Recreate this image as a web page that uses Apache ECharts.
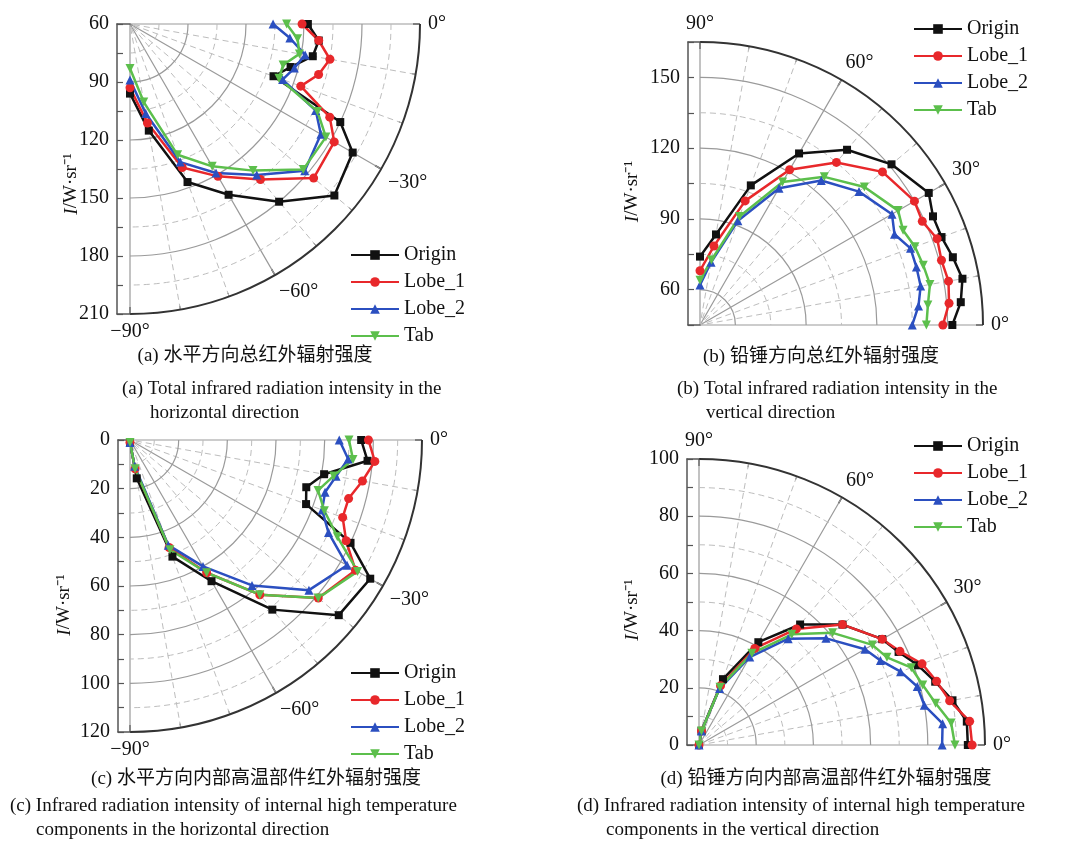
<!DOCTYPE html>
<html>
<head>
<meta charset="utf-8">
<script src="https://cdn.jsdelivr.net/npm/echarts@6/dist/echarts.min.js"></script>
<style>
html, body { margin: 0; padding: 0; background: #fff; }
#chart { width: 1078px; height: 848px; }
</style>
</head>
<body>
<div id="chart"></div>
<script>
// 图例名
const seriesNames = ['Origin', 'Lobe_1', 'Lobe_2', 'Tab'];

// (a) 水平方向总红外辐射强度
const angA = [0, -5, -10, -15, -20, -25, -30, -40, -50, -60, -70, -80, -90];
const aOrigin = [152, 158, 156, 146, 139, 180, 193, 198, 180, 162, 147, 116, 96];
const aLobe1 = [149, 158, 165, 161, 154, 174, 182, 184, 165, 151, 139, 112, 93];
const aLobe2 = [134, 143, 152, 148, 144, 166, 174, 178, 162, 149, 136, 107, 89];
const aTab = [141, 147, 149, 142, 142, 167, 177, 177, 159, 145, 132, 101, 83];

// (b) 铅锤方向总红外辐射强度
const angB = [0, 5, 10, 15, 20, 25, 30, 40, 50, 60, 70, 80, 90];
const bOrigin = [152, 156, 158, 156, 154, 154, 157, 151, 142, 129, 108, 84, 74];
const bLobe1 = [148, 151, 152, 151, 152, 149, 150, 146, 135, 121, 101, 79, 68];
const bLobe2 = [135, 138, 140, 140, 140, 136, 139, 133, 125, 112, 92, 72, 62];
const bTab = [141, 142, 144, 143, 142, 140, 142, 136, 127, 115, 94, 73, 64];

// (c) 水平方向内部高温部件
const angC = [0, -5, -10, -15, -20, -25, -30, -40, -50, -60, -70, -80, -90];
const cOrigin = [95, 98, 81, 75, 77, 100, 114, 112, 91, 67, 51, 16, 1];
const cLobe1 = [98, 101, 97, 93, 93, 98, 107, 101, 83, 63, 47, 12, 1];
const cLobe2 = [86, 90, 86, 83, 84, 90, 103, 96, 78, 60, 46, 11, 1];
const cTab = [90, 92, 85, 80, 85, 94, 108, 101, 83, 63, 48, 12, 1];

// (d) 铅锤方向内部高温部件
const angD = [0, 5, 10, 15, 20, 25, 30, 40, 50, 60, 70, 80, 90];
const dOrigin = [94, 94, 90, 85.5, 81.5, 77, 74, 65.5, 55, 41.5, 24.5, 5, 0];
const dLobe1 = [95.5, 95, 89, 86, 83, 77.5, 74, 65.5, 53, 39, 22, 5, 0];
const dLobe2 = [85, 85.5, 80, 79, 75, 70, 67, 58, 48.5, 35.5, 21, 5, 0];
const dTab = [89.5, 88.5, 84, 81, 79, 72.5, 70, 61, 50.5, 37, 21.5, 5, 0];

// 网格圆弧（实线 / 虚线）的径向刻度值
const ringsA = [90, 120, 150, 180], ringsAMinor = [75, 105, 135, 165, 195];
const ringsB = [60, 90, 120, 150], ringsBMinor = [75, 105, 135];
const ringsC = [20, 40, 60, 80, 100], ringsCMinor = [10, 30, 50, 70, 90, 110];
const ringsD = [20, 40, 60, 80], ringsDMinor = [10, 30, 50, 70, 90];

const serif = "'Liberation Serif', 'Times New Roman', serif";
const cjk = "'Liberation Serif', 'Noto Sans CJK SC', serif";

const marks = [
    { symbol: 'rect', color: '#111111', size: 8, rot: 0 },
    { symbol: 'circle', color: '#e8282b', size: 9, rot: 0 },
    { symbol: 'triangle', color: '#2b4fc0', size: 9, rot: 0 },
    { symbol: 'triangle', color: '#5cbf4c', size: 9, rot: 180 }
];

function lines(polarIndex, ang, sets) {
    return sets.map((vals, i) => ({
        name: seriesNames[i],
        type: 'line',
        coordinateSystem: 'polar',
        polarIndex: polarIndex,
        data: vals.map((v, k) => [v, ang[k]]),
        symbol: marks[i].symbol,
        symbolSize: marks[i].size,
        symbolRotate: marks[i].rot,
        lineStyle: { width: 2.5, color: marks[i].color },
        itemStyle: { color: marks[i].color },
        z: 5,
        animation: false
    }));
}

const solidLine = { color: '#9a9a9a', width: 1.2 };
const dashLine = { color: '#bdbdbd', width: 1, type: [6, 4] };

// 只画扇形范围内的圆弧网格
function rings(polarIndex, values, a0, a1, dashed) {
    return {
        type: 'custom',
        coordinateSystem: 'polar',
        polarIndex: polarIndex,
        silent: true,
        animation: false,
        z: 1,
        data: values.map(v => [v, a0]),
        renderItem: function (params, api) {
            const cs = params.coordSys;
            const p = api.coord([api.value(0), a0]);
            const r = Math.sqrt((p[0] - cs.cx) * (p[0] - cs.cx) + (p[1] - cs.cy) * (p[1] - cs.cy));
            return {
                type: 'arc',
                shape: { cx: cs.cx, cy: cs.cy, r: r, startAngle: -a1 * Math.PI / 180, endAngle: -a0 * Math.PI / 180, clockwise: true },
                style: {
                    fill: 'none',
                    stroke: dashed ? dashLine.color : solidLine.color,
                    lineWidth: dashed ? dashLine.width : solidLine.width,
                    lineDash: dashed ? dashLine.type : null
                }
            };
        }
    };
}

function angleAxis(idx, min, max) {
    return {
        polarIndex: idx,
        type: 'value',
        min: min, max: max,
        startAngle: min, endAngle: max,
        clockwise: false,
        interval: 30,
        axisLine: { lineStyle: { color: '#333', width: 2 } },
        axisTick: { show: true, inside: true, length: 7, lineStyle: { color: '#333', width: 1.5 } },
        minorTick: { show: true, splitNumber: 3, length: 4, lineStyle: { color: '#333', width: 1 } },
        splitLine: { show: true, lineStyle: solidLine },
        minorSplitLine: { show: true, lineStyle: dashLine },
        axisLabel: {
            margin: 8,
            fontFamily: serif, fontSize: 20, color: '#111',
            formatter: v => (v < 0 ? '\u2212' + (-v) : v) + '°'
        }
    };
}

function radiusAxis(idx, min, max) {
    return {
        polarIndex: idx,
        type: 'value',
        min: min, max: max,
        axisLine: { show: false },
        axisTick: { show: false },
        axisLabel: { show: false },
        splitLine: { show: false },
        minorSplitLine: { show: false }
    };
}

function yAxis(idx, min, max, step, major, inverse, gap, shift) {
    return {
        gridIndex: idx,
        type: 'value',
        min: min, max: max, interval: step,
        inverse: inverse,
        position: 'left',
        axisLine: { show: true, lineStyle: { color: '#555', width: 1.5 } },
        axisTick: { show: true, inside: true, length: 6, lineStyle: { color: '#555', width: 1.2 } },
        splitLine: { show: false },
        axisLabel: {
            margin: 8, fontFamily: serif, fontSize: 20, color: '#111',
            formatter: v => (v % major === 0 ? String(v) : '')
        },
        name: '{i|I}/W·sr⁻¹',
        nameLocation: 'middle',
        nameRotate: 90,
        nameGap: gap,
        nameMoveOverlap: false,
        nameTextStyle: {
            fontFamily: serif, fontSize: 19, color: '#111',
            padding: [0, shift, 0, 0],
            rich: { i: { fontFamily: serif, fontSize: 19, fontStyle: 'italic', color: '#111' } }
        }
    };
}

function xAxes(idx) {
    return ['top', 'bottom'].map(p => ({
        gridIndex: idx, type: 'value', min: 0, max: 1, position: p,
        axisLine: { show: true, onZero: false, lineStyle: { color: '#555', width: 1.5 } },
        axisTick: { show: false }, axisLabel: { show: false }, splitLine: { show: false }
    }));
}

function legend(left, top) {
    return {
        orient: 'vertical', left: left, top: top,
        data: seriesNames,
        selectedMode: false,
        itemWidth: 48, itemHeight: 12, itemGap: 7,
        textStyle: { fontFamily: serif, fontSize: 20, color: '#111' }
    };
}

function caption(x, y, text, align) {
    return {
        type: 'text', x: x, y: y,
        style: { text: text, font: '19px ' + cjk, fill: '#111', textAlign: align || 'left', textVerticalAlign: 'middle' }
    };
}

const chart = echarts.init(document.getElementById('chart'));

const option = {
    backgroundColor: '#fff',
    animation: false,
    polar: [
        { center: [130, 24], radius: 290 },
        { center: [700, 325], radius: 283 },
        { center: [130, 440], radius: 292 },
        { center: [699, 745], radius: 286 }
    ],
    angleAxis: [
        angleAxis(0, -90, 0),
        angleAxis(1, 0, 90),
        angleAxis(2, -90, 0),
        angleAxis(3, 0, 90)
    ],
    radiusAxis: [
        radiusAxis(0, 60, 210),
        radiusAxis(1, 45, 165),
        radiusAxis(2, 0, 120),
        radiusAxis(3, 0, 100)
    ],
    grid: [
        { left: 117, top: 24, width: 13, height: 290 },
        { left: 688, top: 42, width: 12, height: 283 },
        { left: 118, top: 440, width: 12, height: 292 },
        { left: 687, top: 459, width: 12, height: 286 }
    ],
    xAxis: [].concat(xAxes(0), xAxes(1), xAxes(2), xAxes(3)),
    yAxis: [
        yAxis(0, 60, 210, 15, 30, true, 36, 30),
        yAxis(1, 45, 165, 15, 30, false, 46, 16),
        yAxis(2, 0, 120, 10, 20, true, 44, 38),
        yAxis(3, 0, 100, 10, 20, false, 45, 16)
    ],
    legend: [
        legend(345, 240),
        legend(908, 14),
        legend(345, 658),
        legend(908, 431)
    ],
    series: [].concat(
        rings(0, ringsA, -90, 0, false), rings(0, ringsAMinor, -90, 0, true),
        rings(1, ringsB, 0, 90, false), rings(1, ringsBMinor, 0, 90, true),
        rings(2, ringsC, -90, 0, false), rings(2, ringsCMinor, -90, 0, true),
        rings(3, ringsD, 0, 90, false), rings(3, ringsDMinor, 0, 90, true),
        lines(0, angA, [aOrigin, aLobe1, aLobe2, aTab]),
        lines(1, angB, [bOrigin, bLobe1, bLobe2, bTab]),
        lines(2, angC, [cOrigin, cLobe1, cLobe2, cTab]),
        lines(3, angD, [dOrigin, dLobe1, dLobe2, dTab])
    ),
    graphic: [
        caption(255, 356, '(a) 水平方向总红外辐射强度', 'center'),
        caption(122, 389, '(a) Total infrared radiation intensity in the'),
        caption(150, 413, 'horizontal direction'),
        caption(821, 357, '(b) 铅锤方向总红外辐射强度', 'center'),
        caption(677, 389, '(b) Total infrared radiation intensity in the'),
        caption(706, 413, 'vertical direction'),
        caption(256, 779, '(c) 水平方向内部高温部件红外辐射强度', 'center'),
        caption(10, 806, '(c) Infrared radiation intensity of internal high temperature'),
        caption(36, 830, 'components in the horizontal direction'),
        caption(826, 779, '(d) 铅锤方向内部高温部件红外辐射强度', 'center'),
        caption(577, 806, '(d) Infrared radiation intensity of internal high temperature'),
        caption(606, 830, 'components in the vertical direction')
    ]
};

chart.setOption(option);

window.addEventListener('resize', function () {
    chart.resize();
});
</script>
</body>
</html>
